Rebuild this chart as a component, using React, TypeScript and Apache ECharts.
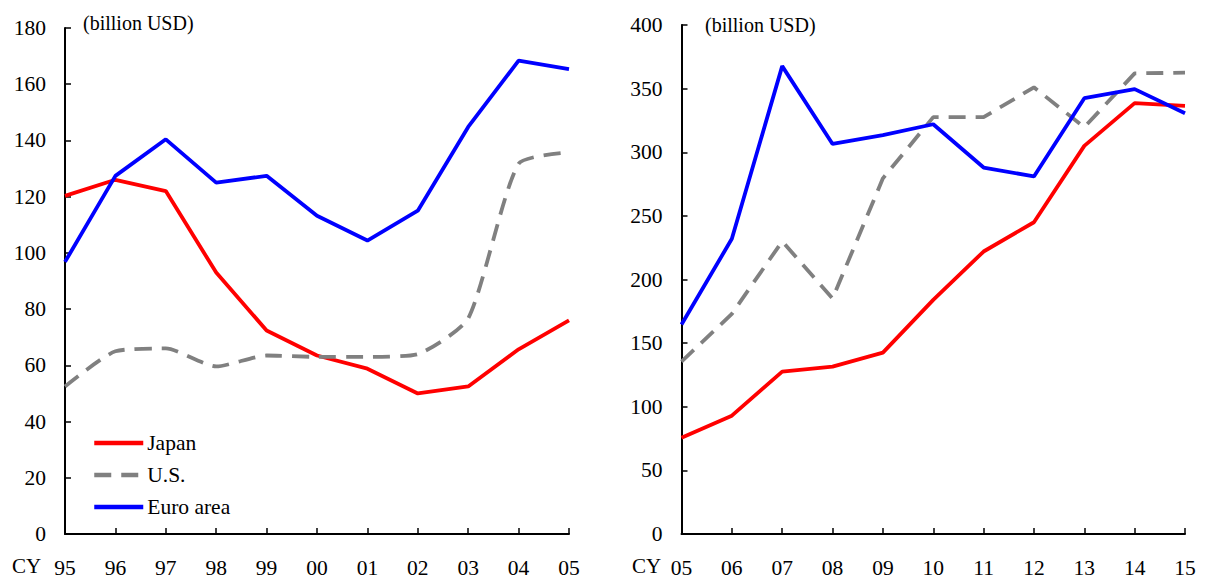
import React, { useEffect, useRef } from "react";
import * as echarts from "echarts";

const yearsA = ["95", "96", "97", "98", "99", "00", "01", "02", "03", "04", "05"];
const japanA = [120.3, 126, 122, 93, 72.4, 63.5, 58.8, 50, 52.5, 65.7, 76];
const usA = [52.5, 65, 66, 59.6, 63.5, 63, 63, 64, 76.7, 131.7, 135.8];
const euroA = [96.8, 127.4, 140.4, 125, 127.4, 113.2, 104.4, 115, 144.8, 168.4, 165.4];

const yearsB = ["05", "06", "07", "08", "09", "10", "11", "12", "13", "14", "15"];
const japanB = [75.6, 93, 127.6, 131.5, 142.5, 184, 222, 245, 305, 338.6, 336.5];
const usB = [135.4, 173, 230, 185, 279.5, 327.6, 327.6, 351, 319.7, 362, 362.5];
const euroB = [164.6, 232, 367.7, 306.5, 313.5, 322, 288, 281, 342.5, 349.6, 330.7];

const FONT = "Liberation Serif";
const RED = "#ff0000";
const BLUE = "#0000ff";
const GRAY = "#808080";

export default function App() {
  const ref = useRef<HTMLDivElement>(null);
  useEffect(() => {
    if (!ref.current) return;
    const chart = echarts.init(ref.current, undefined, { renderer: "svg" });
    const axisLine = { show: true, lineStyle: { color: "#000", width: 2 } };
    const axisTick = { show: true, inside: true, length: 6, lineStyle: { color: "#000", width: 1.5 } };
    const label = { color: "#000", fontFamily: FONT, fontSize: 21.5 };
    const xAxisBase = (data: string[], gridIndex: number) => ({
      type: "category",
      gridIndex,
      data,
      boundaryGap: false,
      axisLine,
      axisTick: { ...axisTick, alignWithLabel: true },
      axisLabel: { ...label, margin: 25, lineHeight: 18, interval: 0 },
      splitLine: { show: false },
    });
    const lineS = (name: string, data: number[], color: string, idx: number, dashed = false, smooth: any = false) => ({
      type: "line",
      name,
      data,
      xAxisIndex: idx,
      yAxisIndex: idx,
      symbol: "none",
      smooth,
      lineStyle: { color, width: 3.8, type: dashed ? [17, 10] : "solid" },
      itemStyle: { color },
    });
    const txt = (text: string, x: number, y: number, size: number) => ({
      type: "text", x, y,
      style: { text, fontFamily: FONT, fontSize: size, lineHeight: size * 0.85, verticalAlign: "middle", fill: "#000" },
    });
    chart.setOption({
      animation: false,
      grid: [
        { left: 65, top: 28, width: 504, height: 507 },
        { left: 681.5, top: 25, width: 503.5, height: 509 },
      ],
      xAxis: [xAxisBase(yearsA, 0), xAxisBase(yearsB, 1)],
      yAxis: [
        {
          type: "value", gridIndex: 0, min: 0, max: 180, interval: 20,
          axisLine, axisTick, axisLabel: { ...label, margin: 19 }, splitLine: { show: false },
        },
        {
          type: "value", gridIndex: 1, min: 0, max: 400, interval: 50,
          axisLine, axisTick, axisLabel: { ...label, margin: 19 }, splitLine: { show: false },
        },
      ],
      legend: {
        data: ["Japan", "U.S.", "Euro area"],
        orient: "vertical",
        left: 92,
        top: 432,
        padding: 0,
        itemWidth: 49,
        itemHeight: 14,
        itemGap: 10,
        itemStyle: { opacity: 0 },
        lineStyle: { width: 4.5 },
        textStyle: { color: "#000", fontFamily: FONT, fontSize: 21.5, padding: [0, 0, 0, -1] },
      },
      graphic: [
        txt("(billion USD)", 83, 23, 20),
        txt("(billion USD)", 705, 25, 20),
        txt("CY", 12, 566, 21),
        txt("CY", 632, 566, 21),
      ],
      series: [
        lineS("Japan", japanA, RED, 0),
        lineS("U.S.", usA, GRAY, 0, true, 0.2),
        lineS("Euro area", euroA, BLUE, 0),
        lineS("Japan", japanB, RED, 1),
        lineS("U.S.", usB, GRAY, 1, true),
        lineS("Euro area", euroB, BLUE, 1),
      ],
    });
    return () => chart.dispose();
  }, []);
  return (
    <div
      ref={ref}
      style={{ position: "absolute", left: 0, top: 0, width: 1205, height: 579, background: "#fff" }}
    />
  );
}
